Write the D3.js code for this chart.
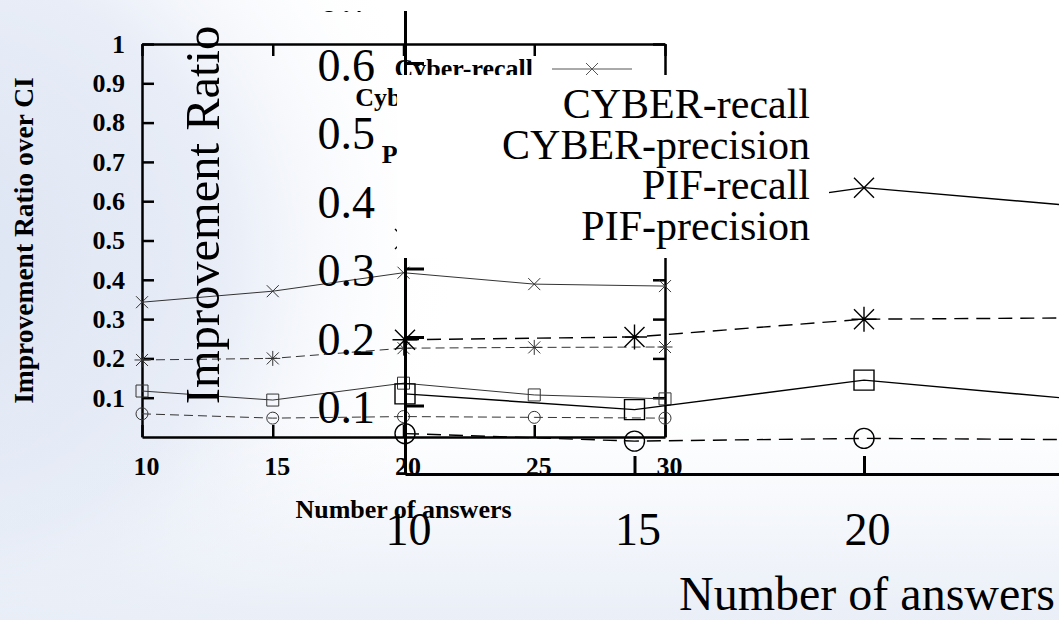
<!DOCTYPE html>
<html><head><meta charset="utf-8">
<script src="https://cdn.jsdelivr.net/npm/d3@7"></script>
<style>html,body{margin:0;padding:0;overflow:hidden;background:#fff}svg{display:block}</style>
</head><body><svg id="c" width="1059" height="620"></svg>
<script>
// ---- data ----
const answers = [10, 15, 20, 25, 30];
const cyberRecall    = [0.343, 0.371, 0.418, 0.389, 0.384];
const cyberPrecision = [0.196, 0.200, 0.226, 0.228, 0.229];
const pifRecall      = [0.117, 0.094, 0.137, 0.107, 0.097];
const pifPrecision   = [0.059, 0.048, 0.052, 0.050, 0.048];
const smallLegend = ["Cyber-recall", "Cyber-precision", "PIF-recall", "PIF-precision"];
const bigLegend   = ["CYBER-recall", "CYBER-precision", "PIF-recall", "PIF-precision"];
const smallYTicks = [0.1, 0.2, 0.3, 0.4, 0.5, 0.6, 0.7, 0.8, 0.9, 1];
const smallXTicks = [10, 15, 20, 25, 30];
const bigYTicks = [0.1, 0.2, 0.3, 0.4, 0.5, 0.6, 0.7];
const bigXTicks = [10, 15, 20, 25];
const xTitle = "Number of answers";
const smallYTitle = "Improvement Ratio over CI";
const bigYTitle = "Improvement Ratio";

const seriesValues = [cyberRecall, cyberPrecision, pifRecall, pifPrecision];
const markerKinds = ["x", "star", "square", "circle"];
const dashed = [false, true, false, true];

const svg = d3.select("#c");
const defs = svg.append("defs");
const SERIF = "'Liberation Serif','Times New Roman',Times,serif";

// ---- background ----
const rg = defs.append("radialGradient").attr("id", "bgL").attr("gradientUnits", "userSpaceOnUse")
  .attr("cx", -60).attr("cy", 260).attr("r", 520);
rg.append("stop").attr("offset", "0").attr("stop-color", "#dde5f3");
rg.append("stop").attr("offset", "0.55").attr("stop-color", "#e8edf7");
rg.append("stop").attr("offset", "1").attr("stop-color", "#ffffff").attr("stop-opacity", 0);
const lg = defs.append("linearGradient").attr("id", "bgB").attr("x1", 0).attr("y1", 0).attr("x2", 0).attr("y2", 1);
lg.append("stop").attr("offset", "0").attr("stop-color", "#e6ecf6").attr("stop-opacity", 0);
lg.append("stop").attr("offset", "1").attr("stop-color", "#e6ecf6").attr("stop-opacity", 0.85);
svg.append("rect").attr("width", 1059).attr("height", 620).attr("fill", "#fff");
svg.append("rect").attr("width", 1059).attr("height", 620).attr("fill", "url(#bgL)");
svg.append("rect").attr("y", 420).attr("width", 1059).attr("height", 200).attr("fill", "url(#bgB)");

function markerPath(kind, s) {
  if (kind === "x") return `M${-s},${-s}L${s},${s}M${-s},${s}L${s},${-s}`;
  if (kind === "star") return `M${-s},${-s}L${s},${s}M${-s},${s}L${s},${-s}M0,${-s*1.25}V${s*1.25}M${-s*1.25},0H${s*1.25}`;
  if (kind === "square") return `M${-s},${-s}h${2*s}v${2*s}h${-2*s}Z`;
  return `M${s},0A${s},${s} 0 1,1 ${-s},0A${s},${s} 0 1,1 ${s},0Z`;
}

// ---- small chart ----
const xS = d3.scaleLinear().domain([10, 30]).range([142, 665]);
const yS = d3.scaleLinear().domain([0, 1]).range([437, 44]);
const small = svg.append("g");
function styleAxis(g, w) {
  g.selectAll(".domain").attr("stroke", "#000").attr("stroke-width", w);
  g.selectAll(".tick line").attr("stroke", "#000").attr("stroke-width", w);
}
const sl = small.append("g").attr("transform", `translate(${xS(10)},0)`)
  .call(d3.axisLeft(yS).tickValues(smallYTicks).tickSize(-12).tickSizeOuter(0).tickPadding(17).tickFormat(d3.format("")));
const sr = small.append("g").attr("transform", `translate(${xS(30)},0)`)
  .call(d3.axisRight(yS).tickValues(smallYTicks).tickSize(-12).tickSizeOuter(0).tickFormat(""));
const sb = small.append("g").attr("transform", `translate(0,${yS(0)})`)
  .call(d3.axisBottom(xS).tickValues(smallXTicks).tickSize(-12).tickSizeOuter(0).tickPadding(19.5));
const st = small.append("g").attr("transform", `translate(0,${yS(1)})`)
  .call(d3.axisTop(xS).tickValues(smallXTicks).tickSize(-12).tickSizeOuter(0).tickFormat(""));
[sl, sr, sb, st].forEach(g => styleAxis(g, 2.5));
[sl, sb].forEach(g => g.selectAll("text").attr("font-family", SERIF).attr("font-weight", "bold")
  .attr("font-size", 26).attr("fill", "#000"));
sb.selectAll("text").attr("dx", 4);

const lineS = d3.line().x((d, i) => xS(answers[i])).y(d => yS(d));
seriesValues.forEach((vals, k) => {
  small.append("path").attr("d", lineS(vals)).attr("fill", "none").attr("stroke", "#333")
    .attr("stroke-width", 1).attr("stroke-dasharray", dashed[k] ? "9,5" : null);
  small.selectAll(null).data(vals).enter().append("path")
    .attr("transform", (d, i) => `translate(${xS(answers[i])},${yS(d)})`)
    .attr("d", markerPath(markerKinds[k], 6)).attr("fill", "none").attr("stroke", "#333").attr("stroke-width", 1);
});
small.append("text").attr("x", xS(20)).attr("y", 518).attr("text-anchor", "middle")
  .attr("font-family", SERIF).attr("font-weight", "bold").attr("font-size", 26).text(xTitle);
small.append("text").attr("transform", `translate(33,${(yS(0) + yS(1)) / 2}) rotate(-90)`).attr("text-anchor", "middle")
  .attr("font-family", SERIF).attr("font-weight", "bold").attr("font-size", 27.5).text(smallYTitle);
// small legend
const legBase = [77, 106, 134.5, 163];
smallLegend.forEach((name, k) => {
  small.append("text").attr("x", 533).attr("y", legBase[k]).attr("text-anchor", "end")
    .attr("font-family", SERIF).attr("font-weight", "bold").attr("font-size", 26).text(name);
  small.append("line").attr("x1", 552).attr("x2", 632).attr("y1", legBase[k] - 8).attr("y2", legBase[k] - 8)
    .attr("stroke", "#555").attr("stroke-width", 1).attr("stroke-dasharray", dashed[k] ? "9,5" : null);
  small.append("path").attr("transform", `translate(592,${legBase[k] - 8})`).attr("d", markerPath(markerKinds[k], 6))
    .attr("fill", "none").attr("stroke", "#555").attr("stroke-width", 1);
});

// ---- big chart ----
const xB = d3.scaleLinear().domain([10, 30]).range([405, 1323]);
const yB = d3.scaleLinear().domain([0, 0.7]).range([474, 474 - 0.7 * 685]);
defs.append("clipPath").attr("id", "bigClip").append("rect").attr("x", 0).attr("y", 11).attr("width", 1059).attr("height", 609);
const big = svg.append("g").attr("clip-path", "url(#bigClip)");
const byAx = big.append("g").attr("transform", `translate(${xB(10)},0)`)
  .call(d3.axisRight(yB).tickValues(bigYTicks).tickSize(19).tickSizeOuter(0).tickFormat(""));
const byLab = big.append("g").attr("transform", `translate(${xB(10)},0)`)
  .call(d3.axisLeft(yB).tickValues(bigYTicks).tickSize(0).tickPadding(30).tickFormat(d3.format("")));
const bxAx = big.append("g").attr("transform", `translate(0,${yB(0)})`)
  .call(d3.axisTop(xB).tickValues(bigXTicks).tickSize(18).tickSizeOuter(0).tickFormat(""));
const bxLab = big.append("g").attr("transform", `translate(0,${yB(0)})`)
  .call(d3.axisBottom(xB).tickValues(bigXTicks).tickSize(0).tickPadding(38));
[byAx, bxAx].forEach(g => styleAxis(g, 3));
[byLab, bxLab].forEach(g => { g.select(".domain").remove();
  g.selectAll("text").attr("font-family", SERIF).attr("font-size", 46).attr("fill", "#000"); });
byLab.selectAll("text").attr("dy", "0.37em");
bxLab.selectAll("text").attr("dx", 3);
const lineB = d3.line().x((d, i) => xB(answers[i])).y(d => yB(d));
seriesValues.forEach((vals, k) => {
  big.append("path").attr("d", lineB(vals)).attr("fill", "none").attr("stroke", "#000")
    .attr("stroke-width", 1.4).attr("stroke-dasharray", dashed[k] ? "14,8" : null);
  big.selectAll(null).data(vals).enter().append("path")
    .attr("transform", (d, i) => `translate(${xB(answers[i])},${yB(d)})`)
    .attr("d", markerPath(markerKinds[k], 10)).attr("fill", "none").attr("stroke", "#000").attr("stroke-width", 1.4);
});
big.append("text").attr("x", xB(20) + 3).attr("y", 610).attr("text-anchor", "middle")
  .attr("font-family", SERIF).attr("font-size", 48).text(xTitle);
big.append("text").attr("transform", `translate(219,215) rotate(-90)`).attr("text-anchor", "middle")
  .attr("font-family", SERIF).attr("font-size", 48.5).text(bigYTitle);

// opaque key box of the big chart
svg.append("rect").attr("x", 397).attr("y", 75).attr("width", 432).attr("height", 183).attr("fill", "#fff");
const bigLegBase = [118, 158.5, 199, 239.5];
bigLegend.forEach((name, k) => {
  svg.append("text").attr("x", 810).attr("y", bigLegBase[k]).attr("text-anchor", "end")
    .attr("font-family", SERIF).attr("font-size", 42).text(name);
});
</script></body></html>
